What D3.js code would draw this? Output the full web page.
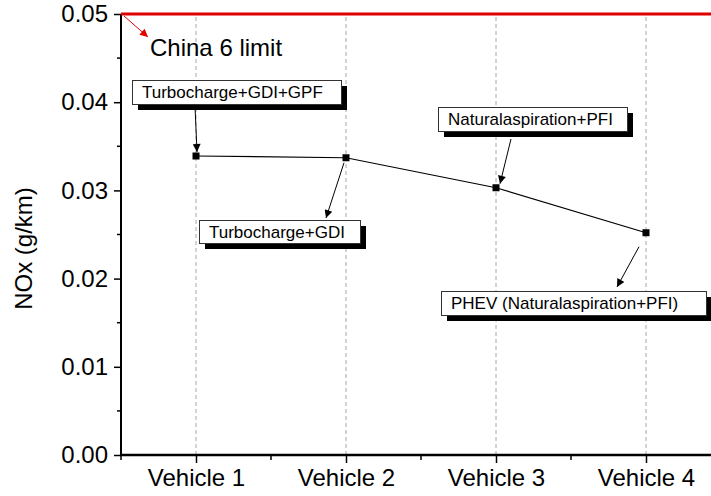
<!DOCTYPE html>
<html>
<head>
<meta charset="utf-8">
<script src="https://cdn.jsdelivr.net/npm/d3@7"></script>
<style>
  html, body { margin: 0; padding: 0; background: #fff; }
  svg { display: block; font-family: "Liberation Sans", Arial, sans-serif; }
</style>
</head>
<body>
<svg id="chart" width="711" height="496"></svg>
<script>
// NOx emissions per test vehicle (g/km)
const vehicles = ["Vehicle 1", "Vehicle 2", "Vehicle 3", "Vehicle 4"];
const noxValues = [0.0339, 0.0337, 0.0303, 0.0252];
const engineLabels = [
  "Turbocharge+GDI+GPF",
  "Turbocharge+GDI",
  "Naturalaspiration+PFI",
  "PHEV (Naturalaspiration+PFI)"
];
const yTicks = [0, 0.01, 0.02, 0.03, 0.04, 0.05];
const limitValue = 0.05;
const limitLabel = "China 6 limit";
const yTitle = "NOx (g/km)";

const svg = d3.select("#chart");

const x = d3.scaleLinear().domain([0.5, 4.5]).range([121, 721]);
const y = d3.scaleLinear().domain([0, 0.05]).range([455, 14]);

// arrowhead markers
const defs = svg.append("defs");
function arrowMarker(id, color) {
  defs.append("marker")
    .attr("id", id)
    .attr("viewBox", "0 0 10 10")
    .attr("refX", 10).attr("refY", 5)
    .attr("markerWidth", 11).attr("markerHeight", 8)
    .attr("markerUnits", "userSpaceOnUse")
    .attr("orient", "auto")
    .append("path").attr("d", "M0,0 L10,5 L0,10 Z").attr("fill", color);
}
arrowMarker("arrBlack", "#000");
arrowMarker("arrRed", "#e00000");

// vertical dashed grid at each vehicle
svg.append("g").selectAll("line")
  .data(vehicles)
  .join("line")
  .attr("x1", (d, i) => x(i + 1)).attr("x2", (d, i) => x(i + 1))
  .attr("y1", y(0)).attr("y2", y(0.05))
  .attr("stroke", "#a8a8a8").attr("stroke-width", 1)
  .attr("stroke-dasharray", "4,3");

// y axis
const yAxis = d3.axisLeft(y).tickValues(yTicks).tickFormat(d3.format(".2f"))
  .tickSize(7).tickPadding(6);
const gy = svg.append("g").attr("transform", "translate(121,0)").call(yAxis);
gy.select(".domain").remove();
gy.selectAll(".tick line").attr("stroke", "#000").attr("stroke-width", 1.5);
gy.selectAll(".tick text").attr("font-size", 24).attr("fill", "#000")
  .attr("font-family", "Liberation Sans, Arial, sans-serif");
// minor y ticks
const yMinor = d3.range(0.005, 0.05, 0.01);
svg.append("g").selectAll("line").data(yMinor).join("line")
  .attr("x1", 117).attr("x2", 121)
  .attr("y1", d => y(d)).attr("y2", d => y(d))
  .attr("stroke", "#000").attr("stroke-width", 1.5);
svg.append("line")
  .attr("x1", 121).attr("x2", 121).attr("y1", y(0.05)).attr("y2", y(0) + 1)
  .attr("stroke", "#000").attr("stroke-width", 2);

// x axis
const xAxis = d3.axisBottom(x).tickValues(d3.range(1, vehicles.length + 1))
  .tickFormat(d => vehicles[d - 1]).tickSize(8).tickPadding(6);
const gx = svg.append("g").attr("transform", `translate(0,${y(0)})`).call(xAxis);
gx.select(".domain").remove();
gx.selectAll(".tick line").attr("stroke", "#000").attr("stroke-width", 1.5);
gx.selectAll(".tick text").attr("font-size", 24).attr("fill", "#000")
  .attr("font-family", "Liberation Sans, Arial, sans-serif");
const xMinor = [0.5, 1.5, 2.5, 3.5];
svg.append("g").selectAll("line").data(xMinor).join("line")
  .attr("x1", d => x(d)).attr("x2", d => x(d))
  .attr("y1", y(0)).attr("y2", y(0) + 5)
  .attr("stroke", "#000").attr("stroke-width", 1.5);
svg.append("line")
  .attr("x1", 120).attr("x2", 711).attr("y1", y(0)).attr("y2", y(0))
  .attr("stroke", "#000").attr("stroke-width", 2.5);

// y title
svg.append("text")
  .attr("transform", `translate(32,${(y(0) + y(0.05)) / 2 + 14}) rotate(-90)`)
  .attr("text-anchor", "middle")
  .attr("font-size", 24).attr("fill", "#000")
  .text(yTitle);

// emission limit line
svg.append("line")
  .attr("x1", 121).attr("x2", 711)
  .attr("y1", y(limitValue)).attr("y2", y(limitValue))
  .attr("stroke", "#e00000").attr("stroke-width", 3);
svg.append("line")
  .attr("x1", 124).attr("y1", y(limitValue) + 2)
  .attr("x2", 148).attr("y2", y(limitValue) + 23)
  .attr("stroke", "#e00000").attr("stroke-width", 1)
  .attr("marker-end", "url(#arrRed)");
svg.append("text")
  .attr("x", 150).attr("y", 56)
  .attr("font-size", 24).attr("fill", "#000")
  .text(limitLabel);

// data line and markers
const line = d3.line().x((d, i) => x(i + 1)).y(d => y(d));
svg.append("path").datum(noxValues)
  .attr("d", line).attr("fill", "none")
  .attr("stroke", "#000").attr("stroke-width", 1.2);
svg.append("g").selectAll("rect").data(noxValues).join("rect")
  .attr("x", (d, i) => x(i + 1) - 3.5).attr("y", d => y(d) - 3.5)
  .attr("width", 7).attr("height", 7).attr("fill", "#000");

// annotation boxes with drop shadow
const boxLayout = [
  { x: 132, y: 80, w: 209, h: 24 },
  { x: 199, y: 220, w: 161, h: 23 },
  { x: 438, y: 107, w: 189, h: 24 },
  { x: 441, y: 291, w: 265, h: 24 }
];
const ann = svg.append("g");
engineLabels.forEach((label, i) => {
  const b = boxLayout[i];
  ann.append("rect")
    .attr("x", b.x + 6).attr("y", b.y + 6).attr("width", b.w).attr("height", b.h)
    .attr("fill", "#000");
  ann.append("rect")
    .attr("x", b.x + 0.5).attr("y", b.y + 0.5).attr("width", b.w).attr("height", b.h)
    .attr("fill", "#fff").attr("stroke", "#333").attr("stroke-width", 1);
  ann.append("text")
    .attr("x", b.x + 10).attr("y", b.y + 18)
    .attr("font-size", 17).attr("fill", "#000")
    .text(label);
});

// annotation arrows (box -> point or point -> box)
const px = i => x(i + 1), py = i => y(noxValues[i]);
const arrows = [
  [px(0) - 1, 106, px(0) + 1, py(0) - 4],
  [px(1) - 2, py(1) + 5, px(1) - 20, 218],
  [px(2) + 15, 139, px(2) + 4, py(2) - 4],
  [px(3) - 7, py(3) + 14, px(3) - 29, 287]
];
svg.append("g").selectAll("line").data(arrows).join("line")
  .attr("x1", d => d[0]).attr("y1", d => d[1])
  .attr("x2", d => d[2]).attr("y2", d => d[3])
  .attr("stroke", "#000").attr("stroke-width", 1)
  .attr("marker-end", "url(#arrBlack)");
</script>
</body>
</html>
